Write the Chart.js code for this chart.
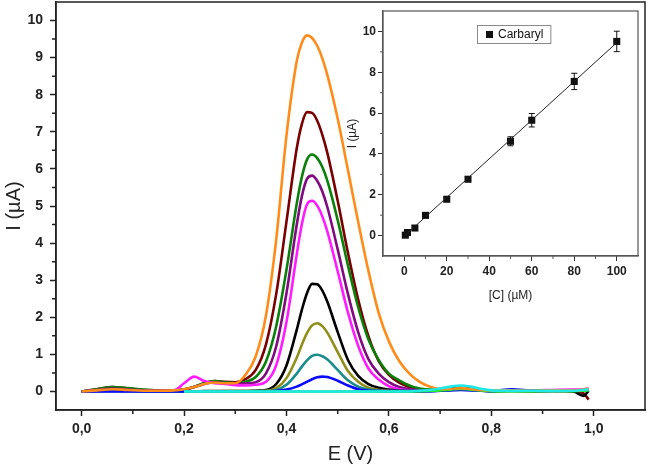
<!DOCTYPE html>
<html>
<head>
<meta charset="utf-8">
<script src="https://cdn.jsdelivr.net/npm/chart.js@4.4.1/dist/chart.umd.min.js"></script>
<style>
  html, body { margin: 0; padding: 0; background: #fff; }
  #wrap { position: relative; width: 649px; height: 466px; }
  #mainChart { position: absolute; left: 0; top: 0; }
  #insetChart { position: absolute; left: 340px; top: 0; }
</style>
</head>
<body>
<div id="wrap">
  <canvas id="mainChart" width="649" height="466"></canvas>
  <canvas id="insetChart" width="309" height="310"></canvas>
</div>
<script>
// potential grid (V), shared by every voltammogram
var potential = [0.00, 0.03, 0.06, 0.09, 0.12, 0.15, 0.18, 0.20, 0.22, 0.24, 0.26, 0.28, 0.30, 0.32, 0.34,
  0.36, 0.38, 0.40, 0.42, 0.43, 0.44, 0.45, 0.46, 0.47, 0.48,
  0.50, 0.52, 0.54, 0.56, 0.58, 0.60, 0.62, 0.64, 0.66, 0.68, 0.70, 0.72, 0.74, 0.76, 0.78, 0.80,
  0.84, 0.88, 0.92, 0.96, 0.98, 0.99];

// current (uA)
var currentOrange = [0, 0.03, 0.06, 0.04, 0.02, 0.02, 0.03, 0.06, 0.12, 0.2, 0.24, 0.22, 0.22, 0.45, 0.95,
  2.05, 4.1, 6.9, 8.9, 9.4, 9.6, 9.53, 9.32, 8.98, 8.52,
  7.35, 5.97, 4.57, 3.25, 2.12, 1.35, 0.82, 0.48, 0.26, 0.13, 0.07, 0.07, 0.09, 0.07, 0.04, 0.03,
  0.03, 0.02, 0.03, 0.03, 0.05, 0.08];
var currentMaroon = [0, 0.06, 0.12, 0.08, 0.04, 0.02, 0.02, 0.05, 0.12, 0.22, 0.28, 0.26, 0.25, 0.33, 0.58,
  1.27, 2.63, 4.58, 6.55, 7.21, 7.53, 7.51, 7.30, 6.92, 6.42,
  5.14, 3.74, 2.48, 1.49, 0.82, 0.45, 0.24, 0.12, 0.06, 0.04, 0.04, 0.06, 0.08, 0.06, 0.03, 0.02,
  0.02, 0.02, 0.02, 0.01, -0.05, -0.22];
var currentGreen = [0, 0.06, 0.12, 0.09, 0.05, 0.03, 0.03, 0.06, 0.13, 0.23, 0.28, 0.25, 0.22, 0.26, 0.39,
  0.81, 1.76, 3.28, 5.06, 5.78, 6.25, 6.39, 6.29, 6.05, 5.67,
  4.62, 3.40, 2.27, 1.40, 0.85, 0.48, 0.30, 0.16, 0.08, 0.05, 0.05, 0.07, 0.09, 0.07, 0.04, 0.02,
  0.03, 0.02, 0.02, 0.02, 0.03, 0.05];
var currentPurple = [0, 0.04, 0.08, 0.05, 0.03, 0.02, 0.02, 0.05, 0.12, 0.2, 0.25, 0.23, 0.2, 0.22, 0.25,
  0.49, 1.22, 2.65, 4.49, 5.26, 5.73, 5.82, 5.68, 5.39, 4.96,
  3.83, 2.63, 1.60, 0.87, 0.48, 0.25, 0.12, 0.06, 0.03, 0.02, 0.03, 0.05, 0.07, 0.05, 0.03, 0.02,
  0.02, 0.03, 0.02, 0.02, 0.03, 0.04];
var currentMagenta = [0, 0.02, 0.04, 0.03, 0.02, 0.02, 0.03, 0.22, 0.4, 0.28, 0.22, 0.2, 0.17, 0.16, 0.18,
  0.26, 0.71, 1.87, 3.69, 4.51, 5.04, 5.14, 5.01, 4.72, 4.30,
  3.24, 2.13, 1.23, 0.62, 0.32, 0.14, 0.06, 0.03, 0.02, 0.02, 0.03, 0.05, 0.07, 0.05, 0.03, 0.02,
  0.03, 0.03, 0.04, 0.05, 0.06, 0.08];
var currentBlack = [0, 0.02, 0.03, 0.02, 0.01, 0.01, 0.01, 0, 0, 0.01, 0.01, 0.01, 0.01, 0.01, 0.02,
  0.04, 0.20, 0.70, 1.66, 2.20, 2.65, 2.90, 2.89, 2.72, 2.41,
  1.60, 0.85, 0.42, 0.20, 0.10, 0.05, 0.02, 0.01, 0.01, 0.02, 0.04, 0.07, 0.09, 0.07, 0.03, 0.01,
  0.02, 0.01, 0.02, 0.0, -0.12, 0.02];
var currentOlive = [0, 0.01, 0.02, 0.01, 0.01, 0.01, 0.01, 0, 0, 0, 0, 0.01, 0.01, 0.01, 0.01,
  0.02, 0.09, 0.36, 0.91, 1.26, 1.57, 1.78, 1.84, 1.76, 1.58,
  1.06, 0.55, 0.26, 0.10, 0.04, 0.02, 0.01, 0.01, 0.01, 0.02, 0.03, 0.05, 0.07, 0.05, 0.03, 0.01,
  0.02, 0.01, 0.02, 0.02, 0.03, 0.04];
var currentTeal = [0, 0.01, 0.01, 0.01, 0, 0, 0, 0, 0, 0, 0, 0, 0, 0, 0.01,
  0.01, 0.04, 0.18, 0.48, 0.67, 0.84, 0.96, 0.99, 0.95, 0.86,
  0.58, 0.30, 0.13, 0.05, 0.02, 0.01, 0.01, 0.01, 0.01, 0.01, 0.02, 0.04, 0.05, 0.04, 0.02, 0.01,
  0.01, 0.01, 0.02, 0.02, 0.02, 0.03];
var currentBlue = [0, 0, 0, 0, 0, 0, 0, 0, 0, 0, 0, 0, 0, 0, 0,
  0.0, 0.01, 0.05, 0.13, 0.19, 0.26, 0.33, 0.38, 0.40, 0.39,
  0.29, 0.16, 0.06, 0.02, 0.01, 0.01, 0.01, 0.01, 0.01, 0.01, 0.02, 0.03, 0.04, 0.03, 0.02, 0.01,
  0.06, 0.02, 0.01, 0.02, 0.02, 0.03];
var currentLime = [null, null, null, null, null, null, null, 0, 0, 0, 0, 0, 0, 0, 0,
  0, 0, 0, 0, 0, 0, 0, 0, 0, 0,
  0, 0, 0, 0, 0, 0, 0, 0, 0.01, 0.02, 0.03, 0.05, 0.07, 0.05, 0.03, 0.01,
  0.01, 0.01, 0.01, 0.01, 0.02, 0.03];
var currentCyan = [null, null, null, null, null, null, null, 0, 0, 0, 0, 0, 0, 0, 0,
  0, 0, 0, 0, 0, 0, 0, 0, 0, 0,
  0, 0, 0, 0, 0, 0, 0, 0, 0.02, 0.04, 0.08, 0.13, 0.16, 0.13, 0.07, 0.03,
  0.02, 0.02, 0.02, 0.02, 0.04, 0.06];

var xTickValues = [0, 0.2, 0.4, 0.6, 0.8, 1.0];
var xMinorValues = [0.1, 0.3, 0.5, 0.7, 0.9];
var yTickValues = [0, 1, 2, 3, 4, 5, 6, 7, 8, 9, 10];
var yMinorValues = [0.5, 1.5, 2.5, 3.5, 4.5, 5.5, 6.5, 7.5, 8.5, 9.5];

// inset: calibration plot
var concentration = [0.5, 1.5, 5, 10, 20, 30, 50, 60, 80, 100];
var peakCurrent = [0.02, 0.15, 0.37, 0.99, 1.78, 2.76, 4.62, 5.65, 7.55, 9.51];
var currentError = [0.1, 0.1, 0.1, 0.1, 0.1, 0.1, 0.22, 0.33, 0.4, 0.5];
var fitConcentration = [0, 100];
var fitCurrent = [-0.03, 9.45];
var insetXTicks = [0, 20, 40, 60, 80, 100];
var insetXMinor = [10, 30, 50, 70, 90];
var insetYTicks = [0, 2, 4, 6, 8, 10];
var insetYMinor = [1, 3, 5, 7, 9];
var legendLabel = 'Carbaryl';

var mainFont = "'Liberation Sans', Arial, sans-serif";

function toPoints(xs, ys) {
  return xs.map(function (x, i) { return { x: x, y: ys[i] }; });
}

// pin the plot box: no extra room for edge labels
function noEdgePadding(axis) {
  axis.paddingTop = 0;
  axis.paddingBottom = 0;
  axis.paddingLeft = 0;
  axis.paddingRight = 0;
}

// box frame + short minor ticks
var frameAndMinorTicks = {
  id: 'frameAndMinorTicks',
  afterDraw: function (chart, args, opts) {
    var ctx = chart.ctx, area = chart.chartArea;
    var xs = chart.scales.x, ys = chart.scales.y;
    ctx.save();
    ctx.strokeStyle = opts.color;
    ctx.lineWidth = opts.width;
    ctx.strokeRect(area.left, area.top, area.right - area.left, area.bottom - area.top);
    ctx.lineWidth = opts.tickWidth;
    ctx.beginPath();
    opts.xMinor.forEach(function (v) {
      var px = xs.getPixelForValue(v);
      ctx.moveTo(px, area.bottom);
      ctx.lineTo(px, area.bottom + opts.len);
    });
    opts.yMinor.forEach(function (v) {
      var py = ys.getPixelForValue(v);
      ctx.moveTo(area.left, py);
      ctx.lineTo(area.left - opts.len, py);
    });
    ctx.stroke();
    ctx.restore();
  }
};

var curves = [
  { data: currentCyan, color: '#1fe8e8' },
  { data: currentOrange, color: '#ff8c1a' },
  { data: currentLime, color: '#22ee22' },
  { data: currentBlue, color: '#0a0aff' },
  { data: currentTeal, color: '#1a8c8c' },
  { data: currentOlive, color: '#8f8f1a' },
  { data: currentBlack, color: '#000000' },
  { data: currentMagenta, color: '#ff1aff' },
  { data: currentPurple, color: '#800a80' },
  { data: currentGreen, color: '#0a800a' },
  { data: currentMaroon, color: '#7a0000' }
];

new Chart(document.getElementById('mainChart'), {
  type: 'line',
  data: {
    datasets: curves.map(function (c) {
      return {
        data: toPoints(potential, c.data),
        borderColor: c.color,
        borderWidth: 2.6,
        pointRadius: 0,
        fill: false,
        cubicInterpolationMode: 'monotone',
        spanGaps: false
      };
    })
  },
  options: {
    responsive: false,
    animation: false,
    layout: { padding: { top: 2, right: 4, left: 0, bottom: 0 } },
    plugins: {
      legend: { display: false },
      tooltip: { enabled: false },
      frameAndMinorTicks: { color: '#222', width: 1.5, tickWidth: 1.5, len: 4, xMinor: xMinorValues, yMinor: yMinorValues }
    },
    scales: {
      x: {
        type: 'linear',
        min: -0.05,
        max: 1.1,
        afterBuildTicks: function (axis) { axis.ticks = xTickValues.map(function (v) { return { value: v }; }); },
        afterFit: function (axis) { axis.height = 56; noEdgePadding(axis); },
        grid: { drawOnChartArea: false, tickLength: 6, tickWidth: 1.5, tickColor: '#222' },
        border: { display: true, color: '#222', width: 1.5 },
        ticks: {
          padding: 5,
          color: '#222',
          font: { family: mainFont, size: 14, weight: 'bold' },
          callback: function (v) { return v.toFixed(1).replace('.', ','); }
        },
        title: { display: true, text: 'E (V)', color: '#222', padding: { top: 0, bottom: 0 }, font: { family: mainFont, size: 20 } }
      },
      y: {
        min: -0.5,
        max: 10.5,
        afterBuildTicks: function (axis) { axis.ticks = yTickValues.map(function (v) { return { value: v }; }); },
        afterFit: function (axis) { axis.width = 56; noEdgePadding(axis); },
        grid: { drawOnChartArea: false, tickLength: 6, tickWidth: 1.5, tickColor: '#222' },
        border: { display: true, color: '#222', width: 1.5 },
        ticks: {
          padding: 7,
          color: '#222',
          font: { family: mainFont, size: 14, weight: 'bold' },
          callback: function (v) { return String(v); }
        },
        title: { display: true, text: 'I (µA)', color: '#222', padding: { top: 2, bottom: 0 }, font: { family: mainFont, size: 20 } }
      }
    }
  },
  plugins: [frameAndMinorTicks]
});

// error bars for the calibration points
var errorBars = {
  id: 'errorBars',
  afterDatasetsDraw: function (chart) {
    var ctx = chart.ctx, xs = chart.scales.x, ys = chart.scales.y;
    ctx.save();
    ctx.strokeStyle = '#111';
    ctx.lineWidth = 1;
    ctx.beginPath();
    concentration.forEach(function (c, i) {
      var px = xs.getPixelForValue(c);
      var top = ys.getPixelForValue(peakCurrent[i] + currentError[i]);
      var bot = ys.getPixelForValue(peakCurrent[i] - currentError[i]);
      ctx.moveTo(px, top); ctx.lineTo(px, bot);
      ctx.moveTo(px - 3, top); ctx.lineTo(px + 3, top);
      ctx.moveTo(px - 3, bot); ctx.lineTo(px + 3, bot);
    });
    ctx.stroke();
    ctx.restore();
  }
};

// boxed legend inside the inset plot area
var insetLegend = {
  id: 'insetLegend',
  afterDraw: function (chart) {
    var ctx = chart.ctx, area = chart.chartArea;
    var bx = area.left + 94, by = area.top + 14;
    ctx.save();
    ctx.font = '12px ' + mainFont;
    var w = ctx.measureText(legendLabel).width + 28;
    ctx.strokeStyle = '#8a8a8a';
    ctx.lineWidth = 1;
    ctx.strokeRect(bx + 0.5, by + 0.5, w, 18);
    ctx.fillStyle = '#111';
    ctx.fillRect(bx + 9, by + 6, 7, 7);
    ctx.textBaseline = 'middle';
    ctx.fillText(legendLabel, bx + 21, by + 10);
    ctx.restore();
  }
};

new Chart(document.getElementById('insetChart'), {
  type: 'line',
  data: {
    datasets: [
      {
        data: toPoints(fitConcentration, fitCurrent),
        borderColor: '#222',
        borderWidth: 1,
        pointRadius: 0,
        fill: false
      },
      {
        data: toPoints(concentration, peakCurrent),
        showLine: false,
        pointStyle: 'rect',
        pointRadius: 5,
        backgroundColor: '#111',
        borderColor: '#111',
        borderWidth: 0
      }
    ]
  },
  options: {
    responsive: false,
    animation: false,
    layout: { padding: { top: 11, right: 11, left: 0, bottom: 0 } },
    plugins: {
      legend: { display: false },
      tooltip: { enabled: false },
      frameAndMinorTicks: { color: '#555', width: 1.2, tickWidth: 1, len: 3, xMinor: insetXMinor, yMinor: insetYMinor }
    },
    scales: {
      x: {
        type: 'linear',
        min: -10,
        max: 110,
        afterBuildTicks: function (axis) { axis.ticks = insetXTicks.map(function (v) { return { value: v }; }); },
        afterFit: function (axis) { axis.height = 54; noEdgePadding(axis); },
        grid: { drawOnChartArea: false, tickLength: 5, tickWidth: 1, tickColor: '#333' },
        border: { display: true, color: '#555', width: 1.2 },
        ticks: { padding: 3, color: '#222', font: { family: mainFont, size: 12, weight: 'bold' } },
        title: { display: true, text: '[C] (µM)', color: '#222', padding: { top: 0, bottom: 7 }, font: { family: mainFont, size: 12 } }
      },
      y: {
        min: -1,
        max: 11,
        afterBuildTicks: function (axis) { axis.ticks = insetYTicks.map(function (v) { return { value: v }; }); },
        afterFit: function (axis) { axis.width = 43; noEdgePadding(axis); },
        grid: { drawOnChartArea: false, tickLength: 5, tickWidth: 1, tickColor: '#333' },
        border: { display: true, color: '#555', width: 1.2 },
        ticks: { padding: 2, color: '#222', font: { family: mainFont, size: 12, weight: 'bold' } },
        title: { display: true, text: 'I (µA)', color: '#222', padding: { top: 5, bottom: 0 }, font: { family: mainFont, size: 12 } }
      }
    }
  },
  plugins: [frameAndMinorTicks, errorBars, insetLegend]
});
</script>
</body>
</html>
